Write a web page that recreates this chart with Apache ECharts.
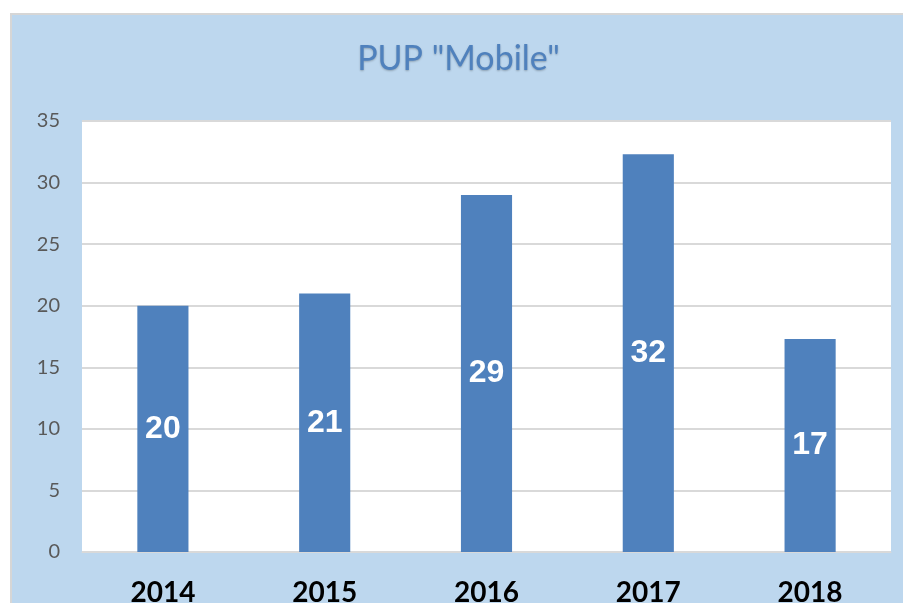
<!DOCTYPE html>
<html>
<head>
<meta charset="utf-8">
<title>PUP "Mobile"</title>
<script src="https://cdn.jsdelivr.net/npm/echarts@6/dist/echarts.min.js"></script>
<style>
  html, body { margin: 0; padding: 0; background: #fff; overflow: hidden; }
  #frame {
    position: absolute; left: 10px; top: 13px;
    width: 900px; height: 600px;
    background: #BDD7EE;
    border-left: 2px solid #d6d6d6;
    border-top: 2px solid #d6d6d6;
  }
  #chart { width: 893px; height: 590px; }
</style>
</head>
<body>
<div id="frame"><div id="chart"></div></div>
<script>
// data
const years = ['2014', '2015', '2016', '2017', '2018']
const values = [20, 21, 29, 32.3, 17.3]
const yTicks = [0, 5, 10, 15, 20, 25, 30, 35]

const chart = echarts.init(document.getElementById('chart'))

const option = {
  animation: false,
  title: {
    text: 'PUP "Mobile"',
    left: 'center',
    top: 22,
    textStyle: {
      fontFamily: 'Lato',
      fontWeight: 'normal',
      fontSize: 34,
      color: '#4F81BD',
      textShadowColor: 'rgba(0,0,0,0.25)',
      textShadowBlur: 2,
      textShadowOffsetY: 1
    }
  },
  grid: {
    left: 70,
    right: 14,
    top: 106,
    bottom: 53,
    outerBoundsMode: 'none',
    containLabel: false,
    show: true,
    backgroundColor: '#ffffff',
    borderWidth: 0
  },
  xAxis: {
    type: 'category',
    data: years,
    axisLine: { show: true, lineStyle: { color: '#d9d9d9', width: 1 } },
    axisTick: { show: false },
    axisLabel: {
      margin: 27,
      fontFamily: 'Lato',
      fontWeight: 'bold',
      fontSize: 28,
      color: '#000'
    }
  },
  yAxis: {
    type: 'value',
    min: yTicks[0],
    max: yTicks[yTicks.length - 1],
    interval: 5,
    axisLine: { show: false },
    axisTick: { show: false },
    splitLine: { lineStyle: { color: '#d9d9d9', width: 2 } },
    axisLabel: {
      margin: 22,
      fontFamily: 'Lato',
      fontSize: 20,
      color: '#595959'
    }
  },
  series: [
    {
      type: 'bar',
      data: values,
      barWidth: '31.6%',
      itemStyle: { color: '#4F81BD' },
      label: {
        show: true,
        position: 'inside',
        formatter: p => Math.round(p.value),
        fontFamily: 'Liberation Sans',
        fontWeight: 'bold',
        fontSize: 32,
        color: '#fff'
      }
    }
  ]
}

chart.setOption(option)
</script>
</body>
</html>
